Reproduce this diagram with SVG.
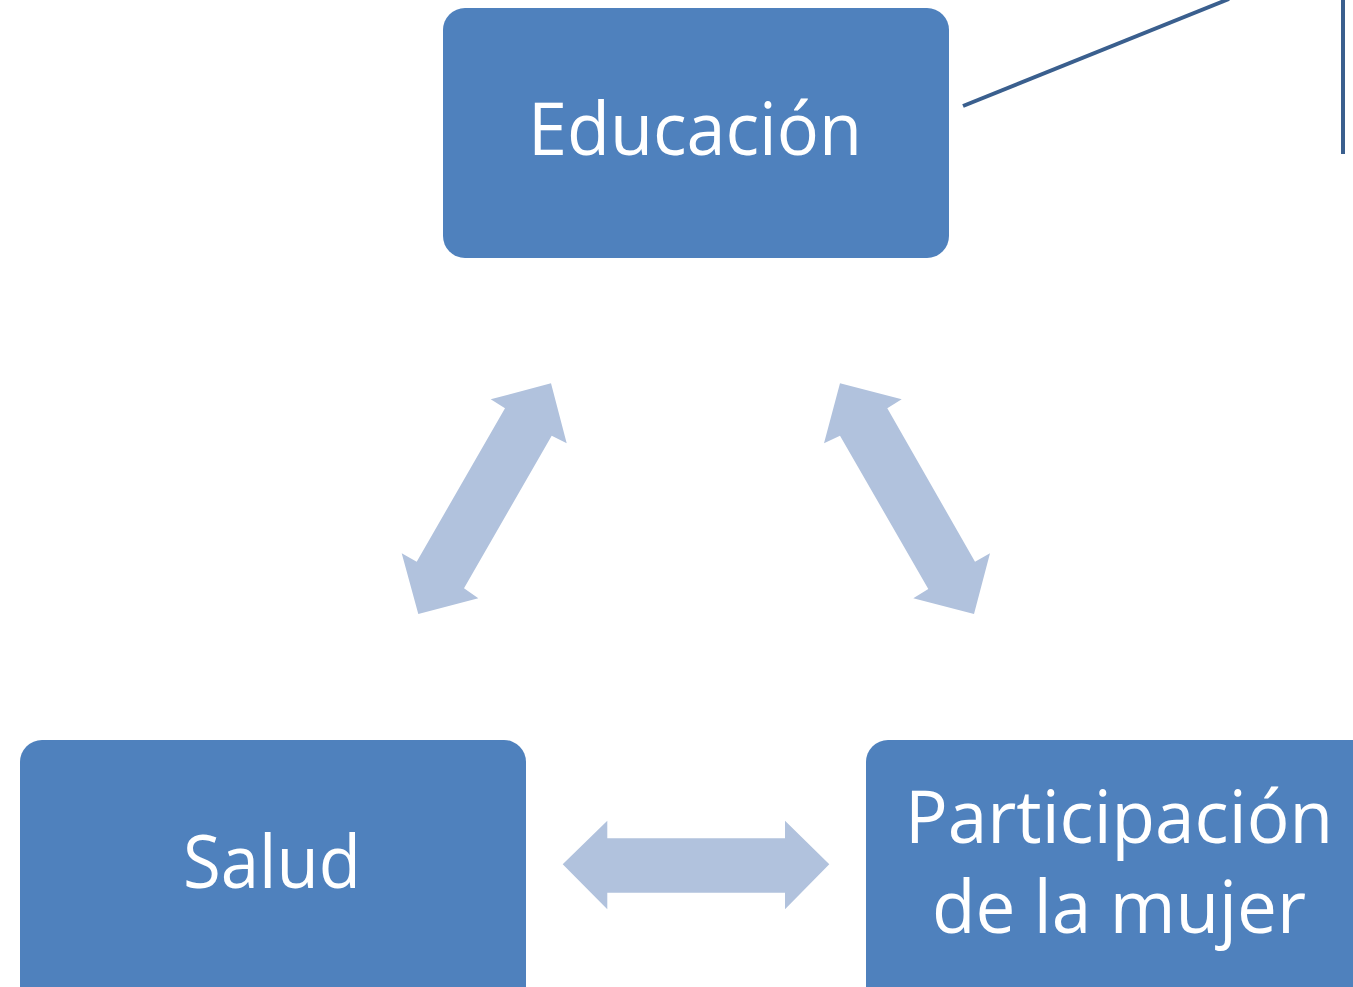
<svg xmlns="http://www.w3.org/2000/svg" width="1353" height="987" viewBox="0 0 1353 987">
<style>
.box{fill:#4F81BD}
.lbl{fill:#FFFFFF;font-family:"Open Sans","Noto Sans","Liberation Sans",sans-serif;font-size:74px}
.arr{fill:#B1C2DD}
.ln{stroke:#3A5F8E;stroke-width:4;fill:none}
</style>
<rect width="1353" height="987" fill="#FFFFFF"/>
<g id="connectors">
<polygon class="arr" points="551,383.3 490.7,399.3 505,408.3 416.7,561.7 401.7,553.3 418.3,614 478.3,598.3 464,588.3 551.7,435.7 566.7,443.3"/>
<polygon class="arr" points="840,383.3 901.7,399.3 887.3,408.3 975,561.7 990,553.3 974,614 913.3,598.3 928.3,589 840,435.7 824,443.3"/>
<polygon class="arr" points="562.7,864.3 607.3,820.7 607.3,838.3 785,838.3 785,820.7 829.3,864.3 785,909.3 785,892.7 607.3,892.7 607.3,909.3"/>
<line class="ln" x1="963" y1="106" x2="1229" y2="-1"/>
<line class="ln" x1="1343" y1="0" x2="1343" y2="154"/>
</g>
<g id="educacion">
<rect class="box" x="443" y="8" width="506" height="250" rx="22"/>
<text class="lbl" x="695" y="155" text-anchor="middle" textLength="334" lengthAdjust="spacingAndGlyphs">Educación</text>
</g>
<g id="salud">
<rect class="box" x="20" y="740" width="506" height="270" rx="22"/>
<text class="lbl" x="272" y="888" text-anchor="middle" textLength="178" lengthAdjust="spacingAndGlyphs">Salud</text>
</g>
<g id="participacion">
<rect class="box" x="866" y="740" width="520" height="270" rx="22"/>
<text class="lbl" x="1119" y="843" text-anchor="middle" textLength="428" lengthAdjust="spacingAndGlyphs">Participación</text>
<text class="lbl" x="1119" y="933" text-anchor="middle" textLength="374" lengthAdjust="spacingAndGlyphs">de la mujer</text>
</g>
</svg>
